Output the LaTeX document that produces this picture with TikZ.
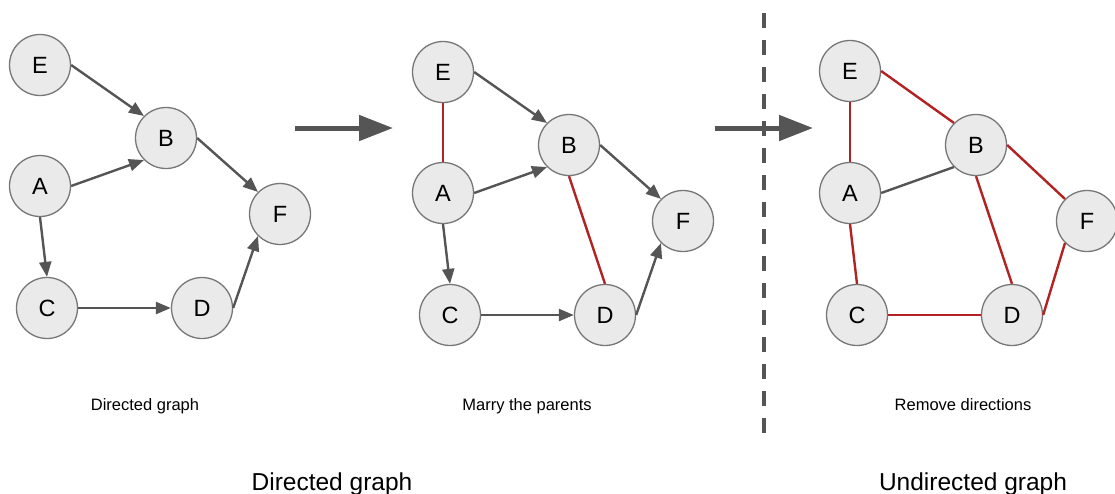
\documentclass[tikz,border=0pt]{standalone}
\usepackage{fontspec}
\setmainfont{Liberation Sans}
\usepackage{xcolor}
\usetikzlibrary{arrows.meta, positioning}
\definecolor{edgegray}{HTML}{555555}
\definecolor{nodeline}{HTML}{777777}
\definecolor{nodefill}{HTML}{EAEAEA}
\definecolor{moralred}{HTML}{B22222}
\tikzset{
    vertex/.style={
        circle,
        draw=nodeline,
        line width=1.3pt,
        fill=nodefill,
        minimum size=61pt,
        inner sep=0pt,
        font=\fontsize{23.5}{27}\selectfont
    },
    edge/.style={
        draw=edgegray,
        line width=2.4pt,
        -{Triangle[length=15pt, width=12pt]}
    },
    plain/.style={
        draw=edgegray,
        line width=2.4pt
    },
    moral/.style={
        draw=moralred,
        line width=2.4pt
    },
    bigarrow/.style={
        draw=edgegray,
        line width=5pt,
        -{Triangle[length=34pt, width=25pt]}
    },
    caption/.style={
        anchor=base,
        inner sep=0pt,
        font=\fontsize{16.5}{19}\selectfont
    },
    title/.style={
        anchor=base,
        inner sep=0pt,
        font=\fontsize{24.5}{28}\selectfont
    }
}
\begin{document}
\begin{tikzpicture}[x=1pt, y=-1pt]
\useasboundingbox (0,0) rectangle (1115,493);

% Directed graph
\node[vertex] (e1) at (40,65) {E};
\node[vertex] (b1) at (166,138) {B};
\node[vertex] (a1) at (40,186) {A};
\node[vertex] (f1) at (280,214) {F};
\node[vertex] (c1) at (47,308) {C};
\node[vertex] (d1) at (202,308) {D};

\draw[edge] (e1.east) -- (b1.north west);
\draw[edge] (a1.east) -- (b1.south west);
\draw[edge] (b1.east) -- (f1.north west);
\draw[edge] (a1.south) -- (c1.north);
\draw[edge] (c1.east) -- (d1.west);
\draw[edge] (d1.east) -- (f1.south west);

\node[caption] (cap1) at (145,410) {Directed graph};

% Step arrow
\coordinate (s1) at (295,128);
\coordinate (t1) at (393,128);
\draw[bigarrow] (s1) -- (t1);

% Marry the parents
\node[vertex] (e2) at (443,72) {E};
\node[vertex] (b2) at (569,145) {B};
\node[vertex] (a2) at (443,193) {A};
\node[vertex] (f2) at (683,221) {F};
\node[vertex] (c2) at (450,315) {C};
\node[vertex] (d2) at (605,315) {D};

\draw[moral] (e2.south) -- (a2.north);
\draw[moral] (b2.south) -- (d2.north);
\draw[edge] (e2.east) -- (b2.north west);
\draw[edge] (a2.east) -- (b2.south west);
\draw[edge] (b2.east) -- (f2.north west);
\draw[edge] (a2.south) -- (c2.north);
\draw[edge] (c2.east) -- (d2.west);
\draw[edge] (d2.east) -- (f2.south west);

\node[caption] (cap2) at (527,410) {Marry the parents};

% Separator
\coordinate (s2) at (715,128);
\coordinate (t2) at (813,128);
\draw[bigarrow] (s2) -- (t2);

\coordinate (sep top) at (764,13);
\coordinate (sep bot) at (764,437);
\draw[edgegray, line width=4pt, dash pattern=on 15pt off 12pt] (sep top) -- (sep bot);

% Remove directions
\node[vertex] (e3) at (850,71) {E};
\node[vertex] (b3) at (976,145) {B};
\node[vertex] (a3) at (850,193) {A};
\node[vertex] (f3) at (1087,221) {F};
\node[vertex] (c3) at (857,315) {C};
\node[vertex] (d3) at (1012,315) {D};

\draw[moral] (e3.east) -- (b3.north west);
\draw[moral] (e3.south) -- (a3.north);
\draw[plain] (a3.east) -- (b3.south west);
\draw[moral] (b3.east) -- (f3.north west);
\draw[moral] (b3.south) -- (d3.north);
\draw[moral] (a3.south) -- (c3.north);
\draw[moral] (c3.east) -- (d3.west);
\draw[moral] (d3.east) -- (f3.south west);

\node[caption] (cap3) at (963,410) {Remove directions};

% Titles
\node[title] (title1) at (332,490) {Directed graph};
\node[title] (title2) at (973,490) {Undirected graph};

\end{tikzpicture}
\end{document}
